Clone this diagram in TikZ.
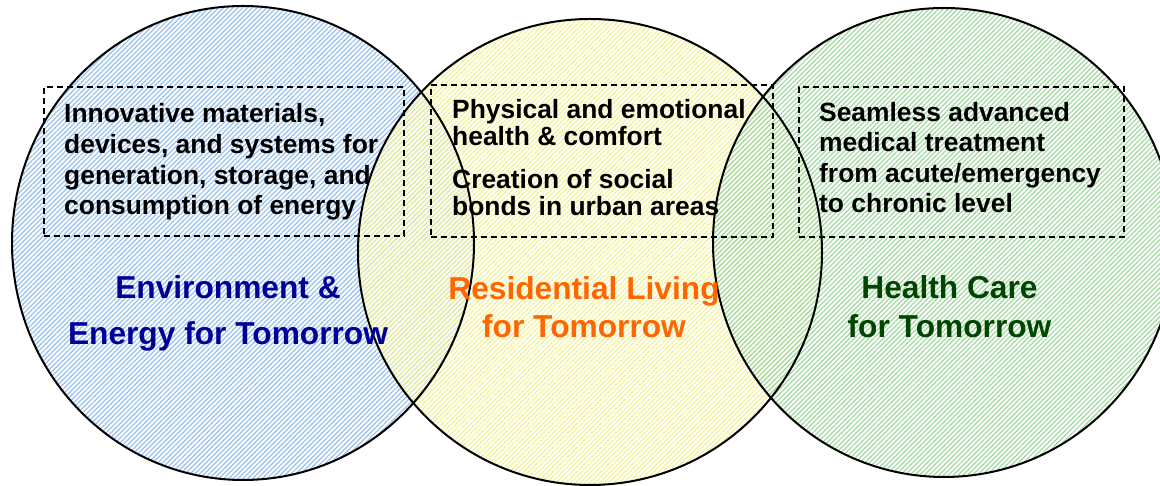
\documentclass[tikz,border=0pt]{standalone}
\usepackage{fontspec}
\setmainfont{Liberation Sans}
\usetikzlibrary{patterns.meta}
\definecolor{hblue}{RGB}{150,192,238}
\definecolor{hyellow}{RGB}{242,242,150}
\definecolor{hgreen}{RGB}{160,216,160}
\definecolor{tblue}{RGB}{0,0,153}
\definecolor{torange}{RGB}{255,102,0}
\definecolor{tgreen}{RGB}{0,70,0}
\begin{document}
\begin{tikzpicture}[x=1pt,y=1pt,
  circ/.style={line width=2pt,draw=black},
  hatch/.style={pattern={Lines[angle=45,distance=3.4pt,line width=1.2pt]},pattern color=#1},
  dbox/.style={draw=black,line width=1.8pt,dash pattern=on 6pt off 4pt,inner sep=0pt,anchor=south west},
  body/.style={anchor=base west,inner sep=0pt,font=\fontsize{26.4}{31}\selectfont\bfseries},
  title/.style={anchor=base,inner sep=0pt,font=\fontsize{31.7}{38}\selectfont\bfseries,text=#1}]
\useasboundingbox (0,0) rectangle (1160,486);
% fills
\fill[hatch=hblue] (243,243) ellipse [x radius=231,y radius=237];
\fill[hatch=hyellow] (590,234) ellipse [x radius=232,y radius=233];
\fill[hatch=hgreen] (944,243.5) ellipse [x radius=231,y radius=234.5];
% outlines
\draw[circ] (243,243) ellipse [x radius=231,y radius=237];
\draw[circ] (590,234) ellipse [x radius=232,y radius=233];
\draw[circ] (944,243.5) ellipse [x radius=231,y radius=234.5];
% dashed boxes
\node[dbox,minimum width=360pt,minimum height=149pt] (boxL) at (43,249) {};
\node[dbox,minimum width=342pt,minimum height=152pt] (boxM) at (430,248) {};
\node[dbox,minimum width=325pt,minimum height=150pt] (boxR) at (798,248) {};
% left texts
\node[body] (l1) at (64,363) {Innovative materials,};
\node[body] (l2) at (64,332) {devices, and systems for};
\node[body] (l3) at (64,301) {generation, storage, and};
\node[body] (l4) at (64,271) {consumption of energy};
% middle texts
\node[body] (m1) at (452,367) {Physical and emotional};
\node[body] (m2) at (452,340) {health \& comfort};
\node[body] (m3) at (452,297) {Creation of social};
\node[body] (m4) at (452,270) {bonds in urban areas};
% right texts
\node[body] (r1) at (819,364) {Seamless advanced};
\node[body] (r2) at (819,334) {medical treatment};
\node[body] (r3) at (819,303) {from acute/emergency};
\node[body] (r4) at (819,273) {to chronic level};
% titles
\node[title=tblue] (tl1) at (228,187) {Environment \&};
\node[title=tblue] (tl2) at (228,141) {Energy for Tomorrow};
\node[title=torange] (tm1) at (584,186) {Residential Living};
\node[title=torange] (tm2) at (584,148) {for Tomorrow};
\node[title=tgreen] (tr1) at (949.5,187) {Health Care};
\node[title=tgreen] (tr2) at (949.5,148) {for Tomorrow};
\end{tikzpicture}
\end{document}
